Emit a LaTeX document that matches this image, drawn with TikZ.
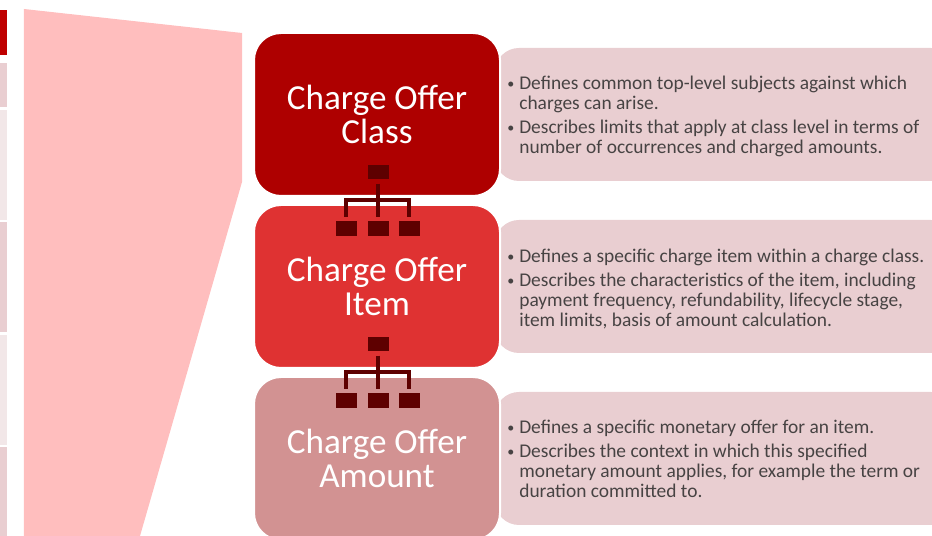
\documentclass[tikz,border=0pt]{standalone}
\usepackage{xcolor}
\usepackage{fontspec}
\setmainfont{Carlito}
\usetikzlibrary{positioning}

\definecolor{classred}{HTML}{AE0000}
\definecolor{itemred}{HTML}{DF3232}
\definecolor{amountred}{HTML}{D29292}
\definecolor{detailpink}{HTML}{E9CED1}
\definecolor{palepink}{HTML}{F2E7E8}
\definecolor{wedgepink}{HTML}{FFBEBE}
\definecolor{orgdark}{HTML}{5E0000}
\definecolor{bodygrey}{HTML}{474343}

\newcommand{\bul}{\makebox[6.8pt][l]{\raisebox{0.6pt}{\fontsize{8}{8}\selectfont\textbullet}}}
\newcommand{\ind}{\hspace*{6.8pt}}

\tikzset{
    title/.style={draw=white, line width=0.04cm, rounded corners=0.54cm, minimum width=4.92cm, minimum height=3.26cm, align=center, text=white, font=\fontsize{20}{19.4}\selectfont},
    detail/.style={fill=detailpink, rounded corners=0.48cm, minimum width=9.2cm, minimum height=2.66cm},
    body/.style={anchor=west, inner sep=0pt, align=left, text=bodygrey, font=\fontsize{11.05}{11.35}\selectfont},
    orgbox/.style={fill=orgdark, minimum width=0.42cm, minimum height=0.29cm, inner sep=0pt},
    orgline/.style={draw=orgdark, line width=0.08cm, shorten <=0.08cm, shorten >=0.08cm},
    tab/.style={minimum width=0.13cm, inner sep=0pt, anchor=north west}
}

\begin{document}
\begin{tikzpicture}
    \useasboundingbox (0,0) rectangle (18.64,-10.72);

    % strip at the left edge
    \node[tab, fill=red!75!black, minimum height=0.9cm] (tabA) at (0,-0.2) {};
    \node[tab, fill=detailpink, minimum height=0.88cm] (tabB) at (0,-1.26) {};
    \node[tab, fill=palepink, minimum height=2.2cm] (tabC) at (0,-2.2) {};
    \node[tab, fill=detailpink, minimum height=2.2cm] (tabD) at (0,-4.44) {};
    \node[tab, fill=palepink, minimum height=2.2cm] (tabE) at (0,-6.7) {};
    \node[tab, fill=detailpink, minimum height=1.8cm] (tabF) at (0,-8.94) {};

    \fill[wedgepink] (0.48,-0.18) -- (4.84,-0.66) -- (4.84,-3.64) -- (2.8,-10.72) -- (0.48,-10.72) -- cycle;

    % details
    \node[detail] (detailA) at (14.5,-2.29) {};
    \node[detail] (detailB) at (14.5,-5.73) {};
    \node[detail] (detailC) at (14.5,-9.17) {};

    \node[body] (textA) at (10.14,-2.33) {\bul Defines common top-level subjects against which\\\ind charges can arise.\\[2.4pt]\bul Describes limits that apply at class level in terms of\\\ind number of occurrences and charged amounts.};
    \node[body] (textB) at (10.14,-5.78) {\bul Defines a specific charge item within a charge class.\\[2.4pt]\bul Describes the characteristics of the item, including\\\ind payment frequency, refundability, lifecycle stage,\\\ind item limits, basis of amount calculation.};
    \node[body] (textC) at (10.14,-9.17) {\bul Defines a specific monetary offer for an item.\\[2.4pt]\bul Describes the context in which this specified\\\ind monetary amount applies, for example the term or\\\ind duration committed to.};

    % titles
    \node[title, fill=classred] (classbox) at (7.54,-2.29) {Charge Offer\\Class};
    \node[title, fill=itemred] (itembox) at (7.54,-5.73) {Charge Offer\\Item};
    \node[title, fill=amountred] (amountbox) at (7.54,-9.17) {Charge Offer\\Amount};

    % first tree
    \node[orgbox] (parentA) at (7.56,-3.44) {};
    \node[orgbox] (childAa) at (6.92,-4.57) {};
    \node[orgbox] (childAb) at (7.56,-4.57) {};
    \node[orgbox] (childAc) at (8.18,-4.57) {};
    \coordinate (busA) at (7.56,-4.0);
    \draw[orgline] (parentA.south) -- (childAb.north);
    \draw[orgline] (childAa.north) |- (busA) -| (childAc.north);

    % second tree
    \node[orgbox] (parentB) at (7.56,-6.88) {};
    \node[orgbox] (childBa) at (6.92,-8.01) {};
    \node[orgbox] (childBb) at (7.56,-8.01) {};
    \node[orgbox] (childBc) at (8.18,-8.01) {};
    \coordinate (busB) at (7.56,-7.44);
    \draw[orgline] (parentB.south) -- (childBb.north);
    \draw[orgline] (childBa.north) |- (busB) -| (childBc.north);
\end{tikzpicture}
\end{document}
